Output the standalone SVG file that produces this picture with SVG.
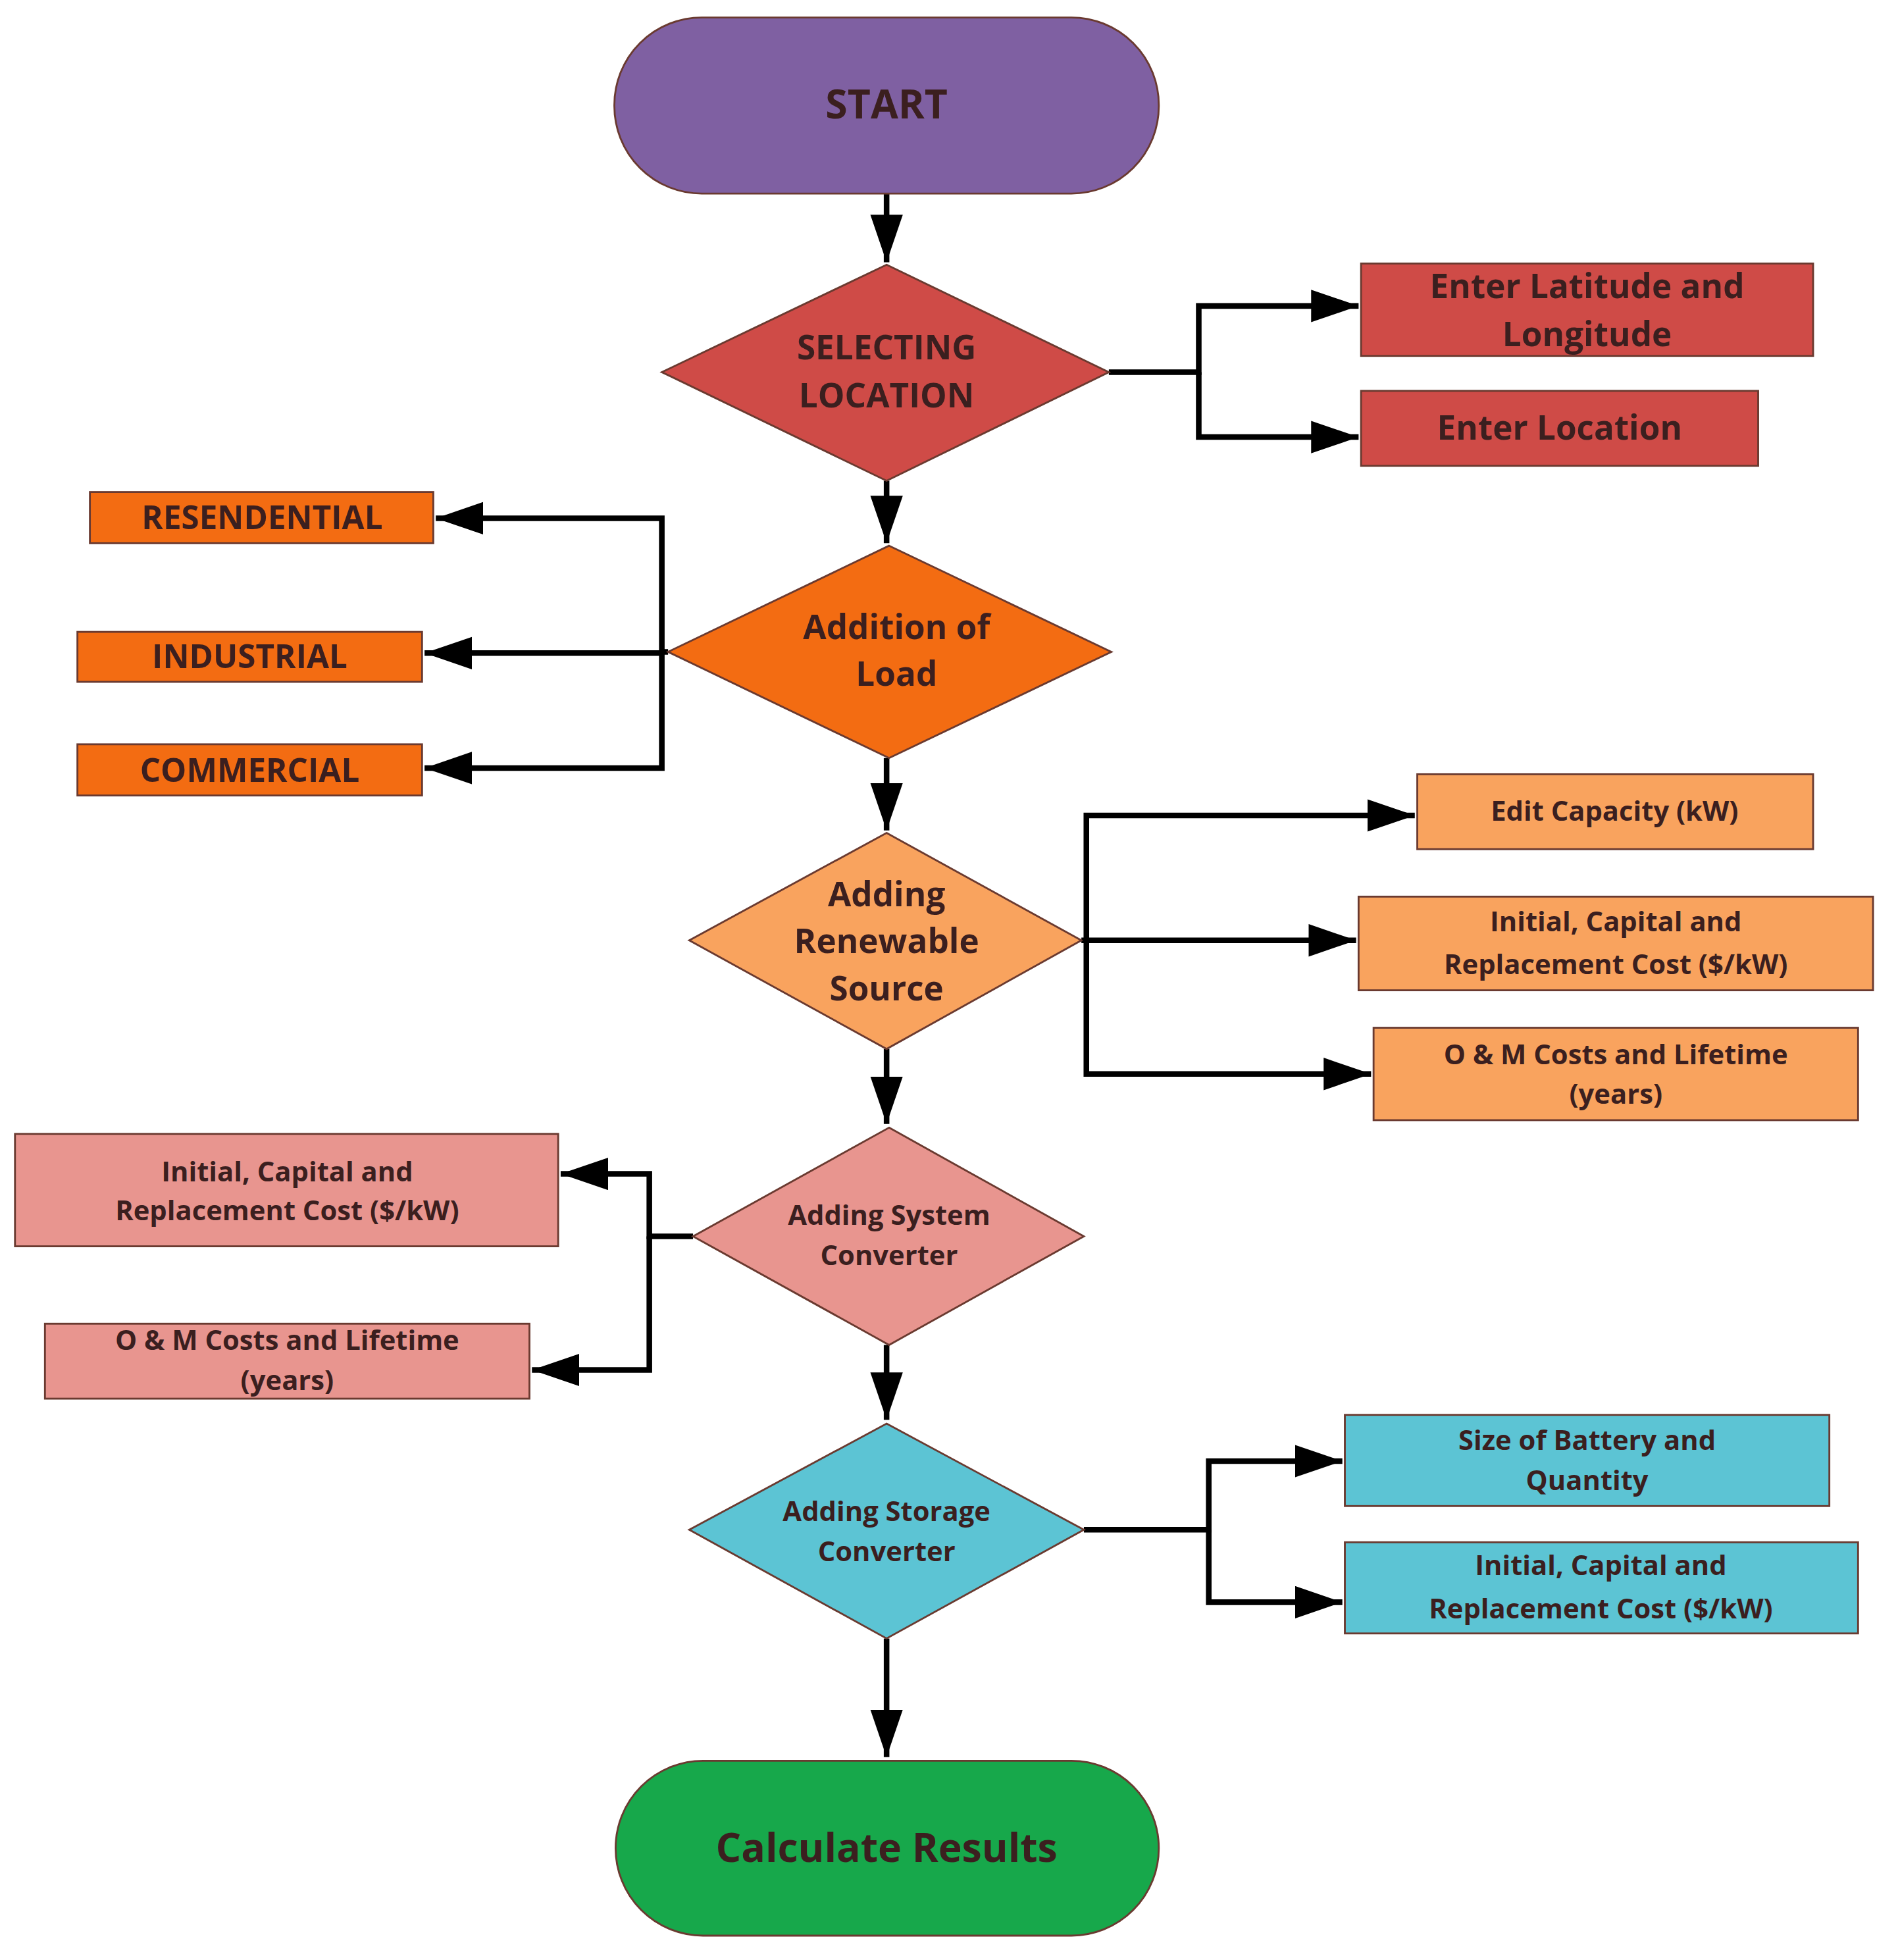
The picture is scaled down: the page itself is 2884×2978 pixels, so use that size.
<svg xmlns="http://www.w3.org/2000/svg" width="2884" height="2978" viewBox="0 0 2884 2978">
<style>
.t{font-family:"Open Sans","Liberation Sans",sans-serif;font-weight:bold;fill:#3b1f1f;text-anchor:middle}
.n{stroke:#6a3a30;stroke-width:1.5}
.c{fill:none;stroke:#000;stroke-width:4.5}
</style>
<defs>
<marker id="a" markerUnits="userSpaceOnUse" markerWidth="40" markerHeight="30" refX="38" refY="13" orient="auto"><path d="M0,0 L38,13 L0,26 Z" fill="#000"/></marker>
</defs>
<rect width="2884" height="2978" fill="#fff"/>
<g transform="scale(1.8974)">
<g id="connectors">
<path class="c" marker-end="url(#a)" d="M710,155 V210"/>
<path class="c" marker-end="url(#a)" d="M888,298 H960 V245 H1088"/>
<path class="c" marker-end="url(#a)" d="M960,298 V350 H1088"/>
<path class="c" marker-end="url(#a)" d="M710,385 V435"/>
<path class="c" marker-end="url(#a)" d="M535,522 H530 V415 H349"/>
<path class="c" marker-end="url(#a)" d="M530,523 H340"/>
<path class="c" marker-end="url(#a)" d="M530,522 V615 H340"/>
<path class="c" marker-end="url(#a)" d="M710,607 V665"/>
<path class="c" marker-end="url(#a)" d="M866,753 H870 V653 H1133"/>
<path class="c" marker-end="url(#a)" d="M870,753 H1086"/>
<path class="c" marker-end="url(#a)" d="M870,753 V860 H1098"/>
<path class="c" marker-end="url(#a)" d="M710,840 V900"/>
<path class="c" marker-end="url(#a)" d="M555,990 H520 V940 H449"/>
<path class="c" marker-end="url(#a)" d="M520,990 V1097 H426"/>
<path class="c" marker-end="url(#a)" d="M710,1077 V1137"/>
<path class="c" marker-end="url(#a)" d="M868,1225 H968 V1170 H1075"/>
<path class="c" marker-end="url(#a)" d="M968,1225 V1283 H1075"/>
<path class="c" marker-end="url(#a)" d="M710,1312 V1407"/>
</g>
<g id="start"><rect class="n" x="492" y="14" width="436" height="141" rx="70" fill="#7f60a2" stroke="#4b3768"/><text class="t" x="710" y="95" font-size="32">START</text></g>
<g id="sel"><polygon class="n" points="710,212 888,298 710,385 530,298" fill="#cf4b47"/><text class="t" x="710" y="288" font-size="27">SELECTING</text><text class="t" x="710" y="326" font-size="27">LOCATION</text></g>
<g id="lat"><rect class="n" x="1090" y="211" width="362" height="74" fill="#cf4b47"/><text class="t" x="1271" y="239" font-size="27">Enter Latitude and</text><text class="t" x="1271" y="277" font-size="27">Longitude</text></g>
<g id="loc"><rect class="n" x="1090" y="313" width="318" height="60" fill="#cf4b47"/><text class="t" x="1249" y="352" font-size="27">Enter Location</text></g>
<g id="load"><polygon class="n" points="712,437 890,522 712,607 535,522" fill="#f36c12"/><text class="t" x="718" y="512" font-size="27">Addition of</text><text class="t" x="718" y="549" font-size="27">Load</text></g>
<g id="res"><rect class="n" x="72" y="394" width="275" height="41" fill="#f36c12"/><text class="t" x="210" y="424" font-size="26">RESENDENTIAL</text></g>
<g id="ind"><rect class="n" x="62" y="506" width="276" height="40" fill="#f36c12"/><text class="t" x="200" y="535" font-size="26">INDUSTRIAL</text></g>
<g id="com"><rect class="n" x="62" y="596" width="276" height="41" fill="#f36c12"/><text class="t" x="200" y="626" font-size="26">COMMERCIAL</text></g>
<g id="ren"><polygon class="n" points="710,667 866,753 710,840 552,753" fill="#f9a35e"/><text class="t" x="710" y="726" font-size="27">Adding</text><text class="t" x="710" y="763" font-size="27">Renewable</text><text class="t" x="710" y="801" font-size="27">Source</text></g>
<g id="cap"><rect class="n" x="1135" y="620" width="317" height="60" fill="#f9a35e"/><text class="t" x="1293" y="657" font-size="22">Edit Capacity (kW)</text></g>
<g id="ic1"><rect class="n" x="1088" y="718" width="412" height="75" fill="#f9a35e"/><text class="t" x="1294" y="746" font-size="22">Initial, Capital and</text><text class="t" x="1294" y="780" font-size="22">Replacement Cost ($/kW)</text></g>
<g id="om1"><rect class="n" x="1100" y="823" width="388" height="74" fill="#f9a35e"/><text class="t" x="1294" y="852" font-size="22">O &amp; M Costs and Lifetime</text><text class="t" x="1294" y="884" font-size="22">(years)</text></g>
<g id="sys"><polygon class="n" points="712,903 868,990 712,1077 555,990" fill="#e8958f"/><text class="t" x="712" y="981" font-size="22">Adding System</text><text class="t" x="712" y="1013" font-size="22">Converter</text></g>
<g id="ic2"><rect class="n" x="12" y="908" width="435" height="90" fill="#e8958f"/><text class="t" x="230" y="946" font-size="22">Initial, Capital and</text><text class="t" x="230" y="977" font-size="22">Replacement Cost ($/kW)</text></g>
<g id="om2"><rect class="n" x="36" y="1060" width="388" height="60" fill="#e8958f"/><text class="t" x="230" y="1081" font-size="22">O &amp; M Costs and Lifetime</text><text class="t" x="230" y="1113" font-size="22">(years)</text></g>
<g id="sto"><polygon class="n" points="710,1140 868,1225 710,1312 552,1225" fill="#5cc4d4"/><text class="t" x="710" y="1218" font-size="22">Adding Storage</text><text class="t" x="710" y="1250" font-size="22">Converter</text></g>
<g id="bat"><rect class="n" x="1077" y="1133" width="388" height="73" fill="#5cc4d4"/><text class="t" x="1271" y="1161" font-size="22">Size of Battery and</text><text class="t" x="1271" y="1193" font-size="22">Quantity</text></g>
<g id="ic3"><rect class="n" x="1077" y="1235" width="411" height="73" fill="#5cc4d4"/><text class="t" x="1282" y="1261" font-size="22">Initial, Capital and</text><text class="t" x="1282" y="1296" font-size="22">Replacement Cost ($/kW)</text></g>
<g id="end"><rect class="n" x="493" y="1410" width="435" height="140" rx="70" fill="#17a84b" stroke="#0d6a2e"/><text class="t" x="710" y="1491" font-size="32" fill="#1b2a1b">Calculate Results</text></g>
</g>
</svg>
